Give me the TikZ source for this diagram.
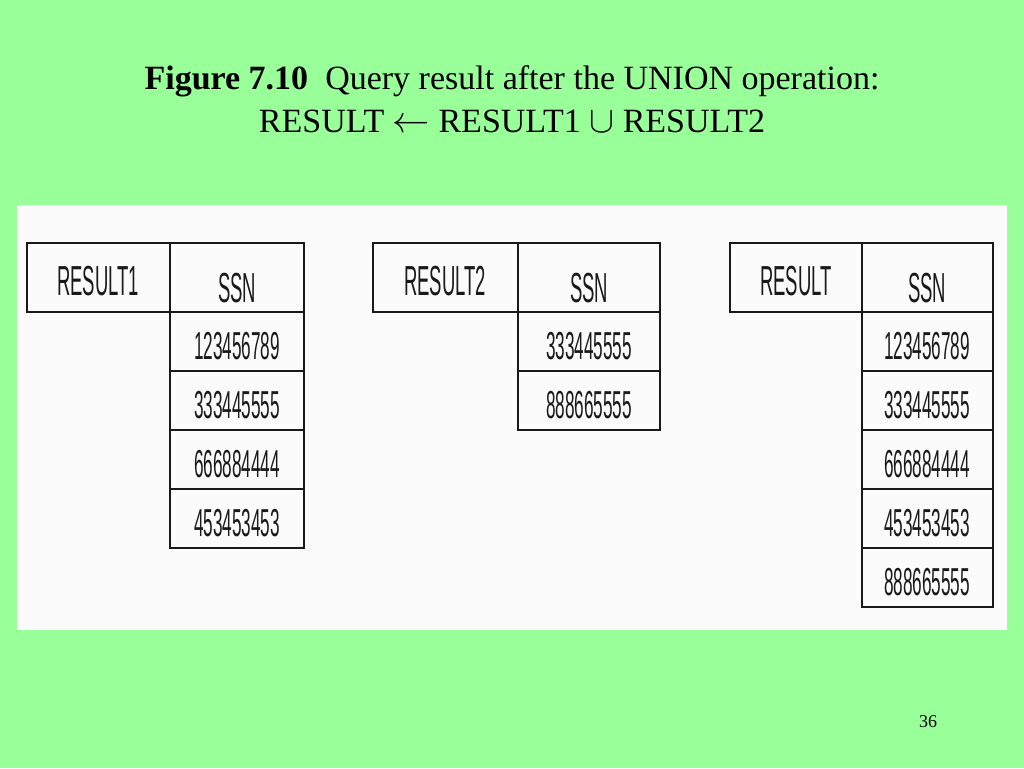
\documentclass[tikz,border=0pt]{standalone}
\usepackage{fontspec}
\setmainfont{Liberation Serif}
\newfontfamily\cellfont[FakeStretch=0.44]{Liberation Sans}
\definecolor{slidegreen}{HTML}{99FF99}
\definecolor{panelwhite}{HTML}{FBFBFB}
\tikzset{
  rule/.style={line width=2pt, black!90},
  head/.style={font=\cellfont\fontsize{42}{42}\selectfont, inner sep=0pt, text=black!90},
  cell/.style={font=\cellfont\fontsize{39}{39}\selectfont, inner sep=0pt, text=black!90},
  titletext/.style={font=\fontsize{34}{34}\selectfont, inner sep=0pt, anchor=base},
}
\begin{document}
\begin{tikzpicture}[x=1pt, y=-1pt]
      \fill[slidegreen] (0,0) rectangle (1024,768);      % slide
      \useasboundingbox (0,0) rectangle (1024,768);
      \fill[panelwhite] (17,205) rectangle (1007,630);   % figure panel
      %
      \node[titletext] (caption) at (512,89)
        {\textbf{Figure 7.10}\ \ Query result after the UNION operation:};
      \node[titletext] (formula) at (512,132)
        {RESULT \scalebox{1.5}{$\leftarrow$} RESULT1
         \scalebox{1.5}{$\cup$} RESULT2};
      %
      \draw[rule] (27,243) rectangle (304,312);          % RESULT1 header
      \draw[rule] (170,243) -- (170,312);
      \node[head] (resone) at (98,281) {RESULT1};
      \node[head] (resonessn) at (237,288) {SSN};
      \foreach \v [count=\i] in {123456789,333445555,666884444,453453453}{
        \draw[rule] (170,253+59*\i) rectangle (304,312+59*\i);
        \node[cell] (resone\i) at (237,287+59*\i) {\v};
      }
      %%
      \draw[rule] (373,243) rectangle (660,312);         % RESULT2 header
      \draw[rule] (518,243) -- (518,312);
      \node[head] (restwo) at (445,281) {RESULT2};
      \node[head] (restwossn) at (589,288) {SSN};
      \foreach \v [count=\i] in {333445555,888665555}{
        \draw[rule] (518,253+59*\i) rectangle (660,312+59*\i);
        \node[cell] (restwo\i) at (589,287+59*\i) {\v};
      }
      %%
      \draw[rule] (730,243) rectangle (993,312);         % RESULT header
      \draw[rule] (862,243) -- (862,312);
      \node[head] (res) at (796,281) {RESULT};
      \node[head] (resssn) at (927,288) {SSN};
      \foreach \v [count=\i] in {123456789,333445555,666884444,453453453,888665555}{
        \draw[rule] (862,253+59*\i) rectangle (993,312+59*\i);
        \node[cell] (res\i) at (927,287+59*\i) {\v};
      }
      %
      \node[font=\fontsize{18}{18}\selectfont, anchor=base] (pagenum) at (928,727) {36};
    \end{tikzpicture}
\end{document}
